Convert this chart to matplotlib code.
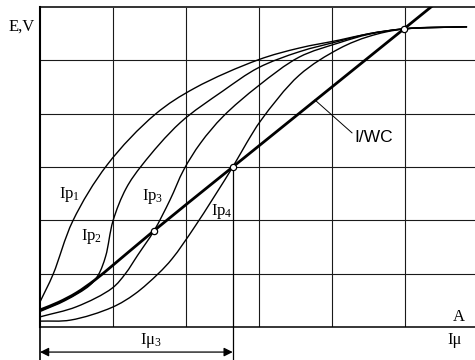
import numpy as np
import matplotlib
matplotlib.use('Agg')
import matplotlib.pyplot as plt
from matplotlib.path import Path
from matplotlib.patches import PathPatch

plt.rcParams['mathtext.fontset'] = 'custom'
plt.rcParams['mathtext.rm'] = 'Liberation Serif'
plt.rcParams['mathtext.it'] = 'Liberation Serif:italic'
plt.rcParams['mathtext.default'] = 'regular'

# ---- data (grid units: Iμ along x, E along y) ----
ip1_x = [0, 0.18, 0.45, 0.92, 1.58, 2.12, 2.99, 3.55, 4.1, 4.51, 4.99, 5.85]
ip1_y = [0.47, 0.99, 1.99, 3.04, 3.99, 4.48, 5.01, 5.23, 5.38, 5.5, 5.59, 5.63]

ip2_x = [0, 0.35, 0.68, 0.8, 0.9, 1.0, 1.18, 1.4, 1.92, 2.5, 2.99, 3.55, 4.1, 4.51, 4.99, 5.85]
ip2_y = [0.29, 0.5, 0.78, 0.98, 1.33, 1.99, 2.6, 3.04, 3.83, 4.42, 4.86, 5.16, 5.36, 5.5, 5.59, 5.63]

ip3_x = [0, 0.5, 0.99, 1.17, 1.34, 1.56, 1.78, 1.97, 2.2, 2.51, 2.99, 3.55, 4.1, 4.51, 4.99, 5.85]
ip3_y = [0.19, 0.38, 0.73, 1.0, 1.35, 1.8, 2.38, 2.95, 3.45, 3.95, 4.52, 5.06, 5.33, 5.49, 5.59, 5.63]

ip4_x = [0, 0.42, 0.99, 1.3, 1.62, 1.81, 2.12, 2.64, 2.83, 3.03, 3.55, 4.1, 4.51, 4.99, 5.85]
ip4_y = [0.11, 0.13, 0.37, 0.62, 1.0, 1.28, 1.88, 3.0, 3.45, 3.88, 4.72, 5.22, 5.45, 5.59, 5.63]

iwc_x = [0, 0.25, 0.5, 0.75, 1.0, 1.557, 2.64, 4.986, 5.6]
iwc_y = [0.32, 0.46, 0.64, 0.88, 1.16, 1.8, 3.0, 5.59, 6.27]

pts_x = [1.557, 2.64, 4.986]
pts_y = [1.8, 3.0, 5.59]

i_mu3 = 2.64

curve_labels = ['Ip$_{1}$', 'Ip$_{2}$', 'Ip$_{3}$', 'Ip$_{4}$']

SX, SY = 73.0, 53.33  # aspect used only for smoothing parametrisation


def smooth_path(xs, ys, alpha=0.5):
    P = np.column_stack([np.asarray(xs, float) * SX, np.asarray(ys, float) * SY])
    n = len(P)
    ext = np.vstack([2 * P[0] - P[1], P, 2 * P[-1] - P[-2]])
    verts = [P[0]]
    codes = [Path.MOVETO]
    for i in range(1, n):
        p0, p1, p2, p3 = ext[i - 1], ext[i], ext[i + 1], ext[i + 2]
        d0 = max(np.linalg.norm(p1 - p0) ** alpha, 1e-6)
        d1 = max(np.linalg.norm(p2 - p1) ** alpha, 1e-6)
        d2 = max(np.linalg.norm(p3 - p2) ** alpha, 1e-6)
        m1 = d1 * ((p1 - p0) / d0 - (p2 - p0) / (d0 + d1) + (p2 - p1) / d1)
        m2 = d1 * ((p2 - p1) / d1 - (p3 - p1) / (d1 + d2) + (p3 - p2) / d2)
        c1 = p1 + m1 / 3.0
        c2 = p2 - m2 / 3.0
        verts += [c1, c2, p2]
        codes += [Path.CURVE4] * 3
    V = np.array(verts)
    V[:, 0] /= SX
    V[:, 1] /= SY
    return Path(V, codes)


fig = plt.figure(figsize=(4.75, 3.6), dpi=100)
ax = fig.add_axes([40 / 475, 33 / 360, 435 / 475, 320 / 360])
ax.set_xlim(0, 435 / 73)
ax.set_ylim(0, 6)
ax.set_xticks([])
ax.set_yticks([])
for s in ['top', 'right']:
    ax.spines[s].set_visible(False)
ax.spines['left'].set_linewidth(1.5)
ax.spines['bottom'].set_linewidth(1.1)

# grid
for gx in range(1, 6):
    ax.axvline(gx, color='#1a1a1a', lw=0.8, zorder=1)
for gy in range(1, 6):
    ax.axhline(gy, color='#1a1a1a', lw=0.8, zorder=1)
ax.axhline(6, color='#333333', lw=1.4, zorder=1, clip_on=False)

# curves
for xs, ys in [(ip1_x, ip1_y), (ip2_x, ip2_y), (ip3_x, ip3_y), (ip4_x, ip4_y)]:
    ax.add_patch(PathPatch(smooth_path(xs, ys), fill=False, lw=1.0, color='black', zorder=3))
ax.add_patch(PathPatch(smooth_path(iwc_x, iwc_y), fill=False, lw=2.0, color='black', zorder=4))

ax.plot(pts_x, pts_y, 'o', ms=4.5, mfc='white', mec='black', mew=0.9, zorder=5)

# labels
serif = 'Liberation Serif'
fs = 12
ax.text(0.41, 2.475, curve_labels[0], family=serif, fontsize=fs, ha='center', va='center', zorder=6)
ax.text(0.71, 1.69, curve_labels[1], family=serif, fontsize=fs, ha='center', va='center', zorder=6)
ax.text(1.55, 2.44, curve_labels[2], family=serif, fontsize=fs, ha='center', va='center', zorder=6)
ax.text(2.49, 2.16, curve_labels[3], family=serif, fontsize=fs, ha='center', va='center', zorder=6)

ax.plot([4.274, 3.767], [3.64, 4.256], color='black', lw=0.7, zorder=4)
ax.text(4.575, 3.56, 'I/WC', family='Liberation Sans', fontsize=12.5, ha='center', va='center', zorder=6)

ax.text(-0.247, 5.625, 'E,V', family=serif, fontsize=fs, ha='center', va='center', clip_on=False)
ax.text(5.74, 0.19, 'A', family=serif, fontsize=fs, ha='center', va='center')
ax.text(5.685, -0.244, 'Iμ', family=serif, fontsize=fs, ha='center', va='center', clip_on=False)
ax.text(1.52, -0.244, 'Iμ$_{3}$', family=serif, fontsize=fs, ha='center', va='center', clip_on=False)

# dimension lines
ax.plot([0, 0], [0, -0.62], color='black', lw=1.2, clip_on=False)
ax.plot([i_mu3, i_mu3], [pts_y[1], -0.62], color='black', lw=0.9, clip_on=False, zorder=2)
ax.annotate('', xy=(0, -0.47), xytext=(i_mu3, -0.47),
            arrowprops=dict(arrowstyle='<|-|>', color='black', lw=0.9, mutation_scale=13,
                            shrinkA=0, shrinkB=0),
            annotation_clip=False)

fig.savefig('out.png', dpi=100)
